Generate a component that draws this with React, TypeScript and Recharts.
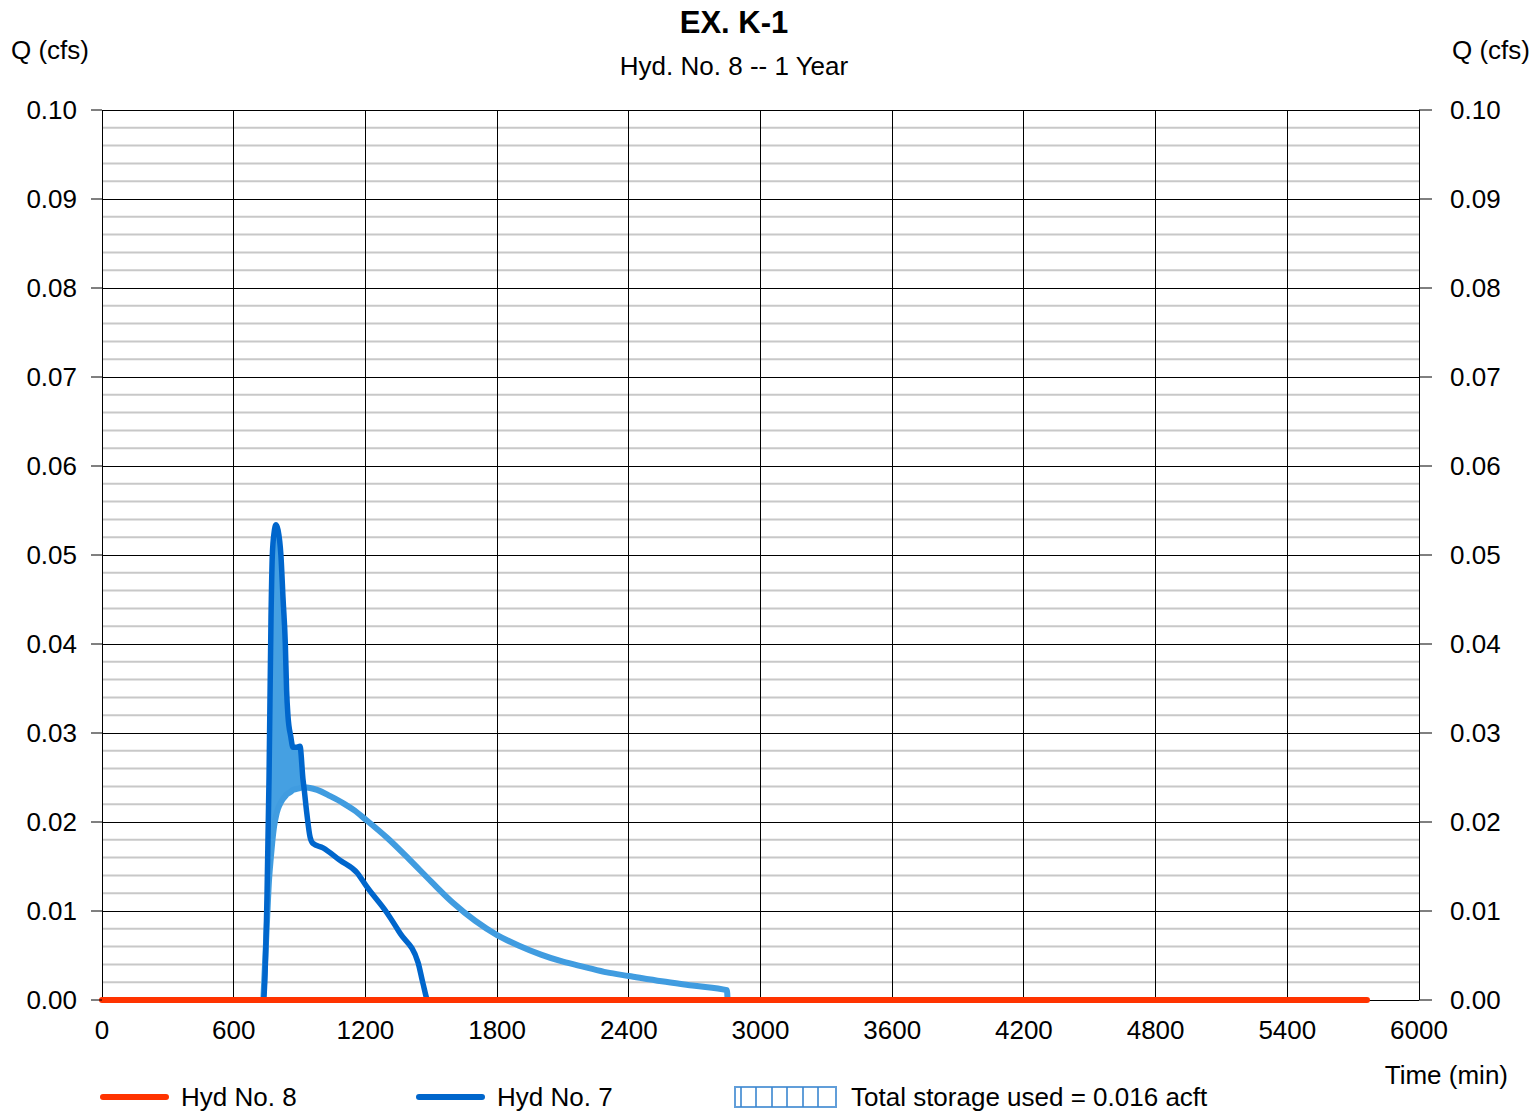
import React from "react";
import {
  ComposedChart,
  Line,
  Area,
  XAxis,
  YAxis,
  CartesianGrid,
} from "recharts";

// ---- Data ----
const X_TICKS = [0, 600, 1200, 1800, 2400, 3000, 3600, 4200, 4800, 5400, 6000];
const Y_TICKS = [0, 0.01, 0.02, 0.03, 0.04, 0.05, 0.06, 0.07, 0.08, 0.09, 0.1];

// Hyd No. 7 (inflow, dark blue)
const inflowTime = [0, 735, 752, 761, 770, 776, 784, 793, 802, 815, 825, 835, 841, 847, 860, 870, 884, 902, 916, 920, 933, 948, 961, 1007, 1084, 1162, 1207, 1298, 1358, 1440, 1462, 1485, 1500];
const inflowQ = [0, 0, 0.012, 0.025, 0.043, 0.05, 0.0525, 0.0534, 0.0528, 0.05, 0.045, 0.0401, 0.0348, 0.032, 0.0296, 0.0284, 0.0284, 0.0285, 0.0247, 0.0239, 0.021, 0.0183, 0.0176, 0.0171, 0.0157, 0.0143, 0.0127, 0.0098, 0.0075, 0.0042, 0.0019, 0, 0];

// Storage envelope curve (light blue)
const envelopeTime = [735, 752, 761, 770, 776, 784, 793, 802, 815, 825, 835, 841, 847, 860, 870, 884, 902, 916, 920, 980, 1040, 1100, 1150, 1200, 1300, 1400, 1500, 1600, 1700, 1800, 1900, 2000, 2100, 2200, 2300, 2400, 2550, 2700, 2847, 2850];
const envelopeQ = [0, 0.009, 0.0135, 0.0162, 0.0178, 0.0195, 0.0207, 0.0215, 0.0222, 0.0226, 0.0229, 0.0231, 0.0232, 0.0234, 0.0236, 0.0237, 0.0238, 0.0239, 0.0239, 0.0236, 0.0229, 0.0221, 0.0213, 0.0203, 0.0182, 0.0158, 0.0133, 0.0109, 0.0089, 0.0073, 0.0061, 0.0051, 0.0043, 0.0037, 0.0031, 0.0027, 0.0021, 0.0016, 0.0011, 0];

// Hyd No. 8 (outflow, red)
const outflowTime = [0, 5763];
const outflowQ = [0, 0];

// ---- Derived tables ----
const inflowData = inflowTime.map((t, i) => ({ t, q: inflowQ[i] }));
const envelopeData = envelopeTime.map((t, i) => ({ t, q: envelopeQ[i] }));
const outflowData = outflowTime.map((t, i) => ({ t, q: outflowQ[i] }));

const fillData = inflowTime
  .map((t, i) => {
    const j = envelopeTime.indexOf(t);
    if (j < 0) return null;
    const hi = inflowQ[i];
    const lo = envelopeQ[j];
    if (hi < lo) return null;
    return { t, range: [lo, hi] };
  })
  .filter((d) => d !== null);

const MINOR_Y: number[] = [];
for (let k = 0; k < Y_TICKS.length - 1; k++) {
  for (let m = 1; m <= 4; m++) {
    MINOR_Y.push(Number((Y_TICKS[k] + m * 0.002).toFixed(3)));
  }
}

const FONT = "'Liberation Sans', Arial, sans-serif";
const RED = "#ff3300";
const DARK = "#0066cc";
const LIGHT = "#409ce0";
const FILL = "#45a0e2";

const tickStyle = { fontSize: 26, fill: "#000", fontFamily: FONT };

export default function App() {
  return (
    <div style={{ position: "absolute", left: 0, top: 0, width: 1536, height: 1112, background: "#fff" }}>
      <ComposedChart
        width={1536}
        height={1112}
        margin={{ top: 110, right: 0, bottom: 52, left: 0 }}
      >
        <CartesianGrid
          stroke="#c8c8c8"
          strokeWidth={2}
          vertical={false}
          horizontalValues={MINOR_Y}
        />
        <CartesianGrid stroke="#000" strokeWidth={1} shapeRendering="crispEdges" />
        <XAxis
          type="number"
          dataKey="t"
          domain={[0, 6000]}
          ticks={X_TICKS}
          interval={0}
          height={60}
          tickLine={false}
          tickSize={0}
          tickMargin={21}
          axisLine={false}
          tick={tickStyle}
        />
        <YAxis
          type="number"
          domain={[0, 0.1]}
          ticks={Y_TICKS}
          interval={0}
          width={102}
          tickSize={11}
          tickMargin={14}
          tickLine={{ stroke: "#000" }}
          axisLine={false}
          tick={tickStyle}
          tickFormatter={(v: number) => v.toFixed(2)}
        />
        <YAxis
          yAxisId="r"
          orientation="right"
          type="number"
          domain={[0, 0.1]}
          ticks={Y_TICKS}
          interval={0}
          width={117}
          tickSize={13}
          tickMargin={18}
          tickLine={{ stroke: "#000" }}
          axisLine={false}
          tick={{ ...tickStyle, textAnchor: "start" }}
          tickFormatter={(v: number) => v.toFixed(2)}
        />
        <Area
          data={fillData}
          dataKey="range"
          type="monotone"
          stroke="none"
          fill={FILL}
          fillOpacity={1}
          isAnimationActive={false}
          dot={false}
          activeDot={false}
        />
        <Line
          data={envelopeData}
          dataKey="q"
          type="monotone"
          stroke={LIGHT}
          strokeWidth={6}
          strokeLinejoin="round"
          dot={false}
          activeDot={false}
          isAnimationActive={false}
        />
        <Line
          data={inflowData}
          dataKey="q"
          type="monotone"
          stroke={DARK}
          strokeWidth={5.5}
          strokeLinejoin="round"
          dot={false}
          activeDot={false}
          isAnimationActive={false}
        />
        <Line
          data={outflowData}
          dataKey="q"
          type="linear"
          stroke={RED}
          strokeWidth={6}
          strokeLinecap="round"
          dot={false}
          activeDot={false}
          isAnimationActive={false}
        />
        <Line
          yAxisId="r"
          data={outflowData}
          dataKey="q"
          stroke="none"
          strokeWidth={0}
          dot={false}
          activeDot={false}
          legendType="none"
          isAnimationActive={false}
        />
      </ComposedChart>
      <svg
        width={1536}
        height={1112}
        style={{ position: "absolute", left: 0, top: 0, pointerEvents: "none" }}
        fontFamily={FONT}
      >
        <text x={734} y={33} textAnchor="middle" fontSize={31} fontWeight="bold" fill="#000">
          EX. K-1
        </text>
        <text x={734} y={75} textAnchor="middle" fontSize={26} fill="#000">
          Hyd. No. 8 -- 1 Year
        </text>
        <text x={11} y={59} fontSize={26} fill="#000">Q (cfs)</text>
        <text x={1530} y={59} textAnchor="end" fontSize={26} fill="#000">Q (cfs)</text>
        <text x={1508} y={1084} textAnchor="end" fontSize={26} fill="#000">Time (min)</text>

        <line x1={103} y1={1097} x2={166} y2={1097} stroke={RED} strokeWidth={6} strokeLinecap="round" />
        <text x={181} y={1106} fontSize={26} fill="#000">Hyd No. 8</text>

        <line x1={419} y1={1097} x2={482} y2={1097} stroke={DARK} strokeWidth={6} strokeLinecap="round" />
        <text x={497} y={1106} fontSize={26} fill="#000">Hyd No. 7</text>

        <g stroke="#3a86d0" strokeOpacity={0.8} strokeWidth={2} fill="none">
          <rect x={735} y={1087} width={101} height={20} />
          {[741, 756, 772, 787, 803, 818].map((x) => (
            <line key={x} x1={x} y1={1087} x2={x} y2={1107} />
          ))}
        </g>
        <text x={851} y={1106} fontSize={26} fill="#000">Total storage used = 0.016 acft</text>
      </svg>
    </div>
  );
}
